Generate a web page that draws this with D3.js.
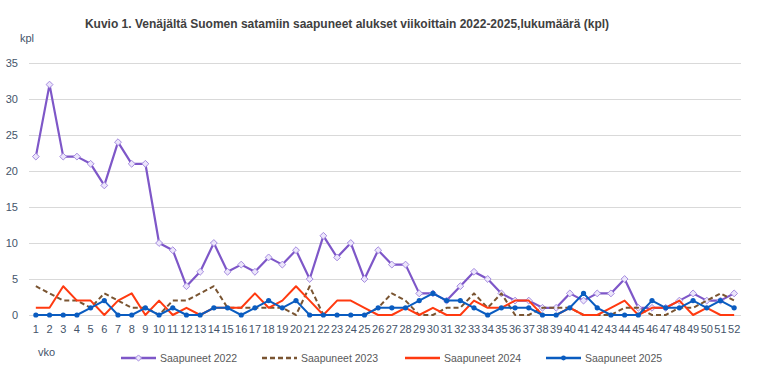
<!DOCTYPE html>
<html><head><meta charset="utf-8">
<script src="https://cdn.jsdelivr.net/npm/d3@7"></script>
<style>body{margin:0;background:#fff}svg{display:block;font-family:"Liberation Sans",Arial,sans-serif}</style>
</head><body><svg id="c" width="757" height="378"></svg>
<script>
const weeks = d3.range(1, 53).map(String);
const yTicks = [0,5,10,15,20,25,30,35];
const s2022 = [22,32,22,22,21,18,24,21,21,10, 9,4,6,10,6,7,6,8,7,9, 5,11,8,10,5,9,7,7,3,3, 2,4,6,5,3,2,2,1,1,3, 2,3,3,5,1,1,1,2,3,2, 2,3];
const s2023 = [4,3,2,2,1,3,2,1,1,0, 2,2,3,4,1,1,1,1,1,0, 4,0,0,0,0,1,3,2,0,0, 1,1,3,1,3,0,0,1,1,1, 0,0,0,1,1,0,0,1,1,2, 3,2];
const s2024 = [1,1,4,2,2,0,2,3,0,2, 0,1,0,1,1,1,3,1,2,4, 2,0,2,2,1,0,0,1,0,1, 0,0,2,1,1,2,2,0,0,1, 0,0,1,2,0,1,1,2,0,1, 0,0];
const s2025 = [0,0,0,0,1,2,0,0,1,0, 1,0,0,1,1,0,1,2,1,2, 0,0,0,0,0,1,1,1,2,3, 2,2,1,0,1,1,1,0,0,1, 3,1,0,0,0,2,1,1,2,1, 2,1];
const seriesNames = ["Saapuneet 2022","Saapuneet 2023","Saapuneet 2024","Saapuneet 2025"];
const title = "Kuvio 1. Venäjältä Suomen satamiin saapuneet alukset viikoittain 2022-2025,lukumäärä (kpl)";

const svg = d3.select("#c");
const L = 29, R = 741, T = 63, B = 315;
const x = d3.scaleBand().domain(weeks).range([L, R]);
const y = d3.scaleLinear().domain([0, 35]).range([B, T]);
const cx = w => x(w) + x.bandwidth()/2;
const axisCol = "#44546a";

const ya = d3.axisLeft(y).tickValues(yTicks).tickSize(-(R-L)).tickPadding(10);
const gy = svg.append("g").attr("transform", `translate(${L},0)`).call(ya);
gy.select(".domain").remove();
gy.selectAll("line").attr("stroke", "#d9d9d9");
gy.selectAll("text").attr("fill", axisCol).attr("font-size", 11).attr("x", -11);

const xa = d3.axisBottom(x).tickSize(0).tickPadding(10);
const gx = svg.append("g").attr("transform", `translate(0,${B})`).call(xa);
gx.select(".domain").remove();
gx.selectAll("text").attr("fill", axisCol).attr("font-size", 11);

const diamond = d3.symbolDiamond2 || d3.symbolDiamond;
const styles = [
  {data: s2022, color: "#7e57c8", width: 2.2, dash: null, marker: "diamond"},
  {data: s2023, color: "#7a5532", width: 2, dash: "5,3", marker: null},
  {data: s2024, color: "#ff3a10", width: 2, dash: null, marker: null},
  {data: s2025, color: "#0a5cc0", width: 2, dash: null, marker: "circle"}
];
const line = d3.line().x((d,i) => cx(weeks[i])).y(d => y(d));
styles.forEach(s => {
  svg.append("path").datum(s.data).attr("d", line).attr("fill", "none")
    .attr("stroke", s.color).attr("stroke-width", s.width)
    .attr("stroke-dasharray", s.dash).attr("stroke-linejoin", "round");
  if (s.marker === "diamond") {
    svg.append("g").selectAll("path").data(s.data).join("path")
      .attr("d", d3.symbol(diamond, 30)())
      .attr("transform", (d,i) => `translate(${cx(weeks[i])},${y(d)})`)
      .attr("fill", "#ece6fb").attr("stroke", "#a58be0").attr("stroke-width", 1);
  } else if (s.marker === "circle") {
    svg.append("g").selectAll("circle").data(s.data).join("circle")
      .attr("cx", (d,i) => cx(weeks[i])).attr("cy", d => y(d)).attr("r", 2.6)
      .attr("fill", s.color);
  }
});

svg.append("text").attr("x", 347).attr("y", 28).attr("text-anchor", "middle")
  .attr("font-weight", "bold").attr("font-size", 12).attr("fill", "#404040").text(title);
svg.append("text").attr("x", 20).attr("y", 42).attr("font-size", 11).attr("fill", axisCol).text("kpl");
svg.append("text").attr("x", 38).attr("y", 356).attr("font-size", 11).attr("fill", axisCol).text("vko");

const legX = [121, 262, 405, 546];
styles.forEach((s, i) => {
  const g = svg.append("g").attr("transform", `translate(${legX[i]},358)`);
  g.append("line").attr("x1", 0).attr("x2", 35).attr("stroke", s.color)
    .attr("stroke-width", s.width + 0.5).attr("stroke-dasharray", s.dash);
  if (s.marker === "diamond") g.append("path").attr("d", d3.symbol(diamond, 24)())
    .attr("transform", "translate(17.5,0)").attr("fill", "#ece6fb").attr("stroke", "#a58be0");
  if (s.marker === "circle") g.append("circle").attr("cx", 17.5).attr("r", 2.4).attr("fill", s.color);
  g.append("text").attr("x", 39).attr("y", 4).attr("font-size", 10.5).attr("fill", "#595959").text(seriesNames[i]);
});
</script></body></html>
